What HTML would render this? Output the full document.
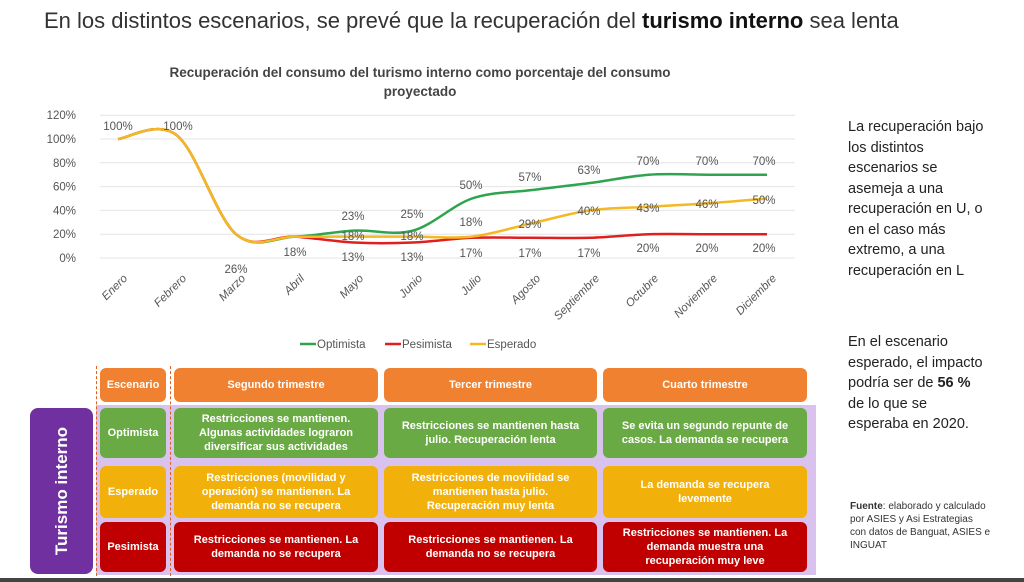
<!DOCTYPE html>
<html><head><meta charset="utf-8"><style>
body{margin:0;width:1024px;height:582px;background:#fff;position:relative;overflow:hidden;font-family:"Liberation Sans",sans-serif}
.a{position:absolute}
.rt{position:absolute;left:848px;font-size:14.5px;line-height:20.5px;color:#222}
.b{position:absolute;border-radius:6px;color:#fff;font-weight:bold;font-size:11px;display:flex;align-items:center;justify-content:center;text-align:center;line-height:14px;font-family:"Liberation Sans Narrow","Liberation Sans",sans-serif}
.o{background:#ef8130}.g{background:#6aaa45}.y{background:#f2b10a}.r{background:#c00000}
</style></head><body>
<div class="a" style="left:44px;top:8px;font-size:22px;color:#333">En los distintos escenarios, se prevé que la recuperación del <b style="color:#111">turismo interno</b> sea lenta</div>
<div class="a" style="left:100px;top:63px;width:640px;text-align:center;font-size:13.5px;font-weight:bold;color:#444;line-height:19px">Recuperación del consumo del turismo interno como porcentaje del consumo<br>proyectado</div>
<svg class="a" style="left:0;top:0" width="820" height="360" id="s" font-family="Liberation Sans, sans-serif" font-size="11.5" fill="#555"></svg>
<div class="rt" style="top:117px">La recuperación bajo<br>los distintos<br>escenarios se<br>asemeja a una<br>recuperación en U, o<br>en el caso más<br>extremo, a una<br>recuperación en L</div>
<div class="rt" style="top:332px">En el escenario<br>esperado, el impacto<br>podría ser de <b>56 %</b><br>de lo que se<br>esperaba en 2020.</div>
<div class="a" style="left:850px;top:500px;font-size:10px;line-height:13px;color:#333"><b>Fuente</b>: elaborado y calculado<br>por ASIES y Asi Estrategias<br>con datos de Banguat, ASIES e<br>INGUAT</div>
<div class="a" style="left:96px;top:405px;width:720px;height:170px;background:#d9c3ee"></div>
<div class="a" style="left:30px;top:408px;width:63px;height:166px;background:#7030a0;border-radius:8px"></div>
<div class="a" style="left:62px;top:491px;transform:translate(-50%,-50%) rotate(-90deg);color:#fff;font-weight:bold;font-size:17px;white-space:nowrap">Turismo interno</div>
<div class="a" style="left:96px;top:366px;height:210px;border-left:1.5px dashed #e06020"></div>
<div class="a" style="left:170px;top:366px;height:210px;border-left:1.5px dashed #e06020"></div>
<div class="b o" style="left:100px;top:368px;width:66px;height:34px">Escenario</div>
<div class="b o" style="left:174px;top:368px;width:204px;height:34px">Segundo trimestre</div>
<div class="b o" style="left:384px;top:368px;width:213px;height:34px">Tercer trimestre</div>
<div class="b o" style="left:603px;top:368px;width:204px;height:34px">Cuarto trimestre</div>
<div class="b g" style="left:100px;top:408px;width:66px;height:50px">Optimista</div>
<div class="b g" style="left:174px;top:408px;width:204px;height:50px">Restricciones se mantienen.<br>Algunas actividades lograron<br>diversificar sus actividades</div>
<div class="b g" style="left:384px;top:408px;width:213px;height:50px">Restricciones se mantienen hasta<br>julio. Recuperación lenta</div>
<div class="b g" style="left:603px;top:408px;width:204px;height:50px">Se evita un segundo repunte de<br>casos. La demanda se recupera</div>
<div class="b y" style="left:100px;top:466px;width:66px;height:52px">Esperado</div>
<div class="b y" style="left:174px;top:466px;width:204px;height:52px">Restricciones (movilidad y<br>operación) se mantienen. La<br>demanda no se recupera</div>
<div class="b y" style="left:384px;top:466px;width:213px;height:52px">Restricciones de movilidad se<br>mantienen hasta julio.<br>Recuperación muy lenta</div>
<div class="b y" style="left:603px;top:466px;width:204px;height:52px">La demanda se recupera<br>levemente</div>
<div class="b r" style="left:100px;top:522px;width:66px;height:50px">Pesimista</div>
<div class="b r" style="left:174px;top:522px;width:204px;height:50px">Restricciones se mantienen. La<br>demanda no se recupera</div>
<div class="b r" style="left:384px;top:522px;width:213px;height:50px">Restricciones se mantienen. La<br>demanda no se recupera</div>
<div class="b r" style="left:603px;top:522px;width:204px;height:50px">Restricciones se mantienen. La<br>demanda muestra una<br>recuperación muy leve</div>
<div class="a" style="left:0;top:578px;width:1024px;height:4px;background:#444"></div>
<script>
var s=document.getElementById('s'),h='';
function X(i){return 118+59*i}function Y(v){return 258-v*1.19}
for(var k=0;k<=6;k++){var y=Y(k*20);h+='<line x1="100" x2="795" y1="'+y+'" y2="'+y+'" stroke="#e4e4e4"/><text x="76" y="'+(y+4)+'" text-anchor="end">'+(k*20)+'%</text>';}
var m=['Enero','Febrero','Marzo','Abril','Mayo','Junio','Julio','Agosto','Septiembre','Octubre','Noviembre','Diciembre'];
m.forEach(function(t,i){h+='<text font-style="italic" transform="translate('+(X(i)+10)+',279) rotate(-45)" text-anchor="end">'+t+'</text>';});
function P(d){var p=d.map(function(v,i){return[X(i),Y(v)]});var s='M'+p[0];for(var i=0;i<p.length-1;i++){var a=p[i-1]||p[i],b=p[i],c=p[i+1],e=p[i+2]||c;s+=' C'+(b[0]+(c[0]-a[0])/6)+','+(b[1]+(c[1]-a[1])/6)+' '+(c[0]-(e[0]-b[0])/6)+','+(c[1]-(e[1]-b[1])/6)+' '+c;}return s}
var O=[100,103,20,18,23,23,50,57,63,70,70,70],E=[100,103,20,18,18,18,18,29,40,43,46,50],R=[100,103,20,18,13,13,17,17,17,20,20,20];
h+='<path d="'+P(O)+'" fill="none" stroke="#2ea44f" stroke-width="2.5"/>';
h+='<path d="'+P(R)+'" fill="none" stroke="#e02020" stroke-width="2.5"/>';
h+='<path d="'+P(E)+'" fill="none" stroke="#f4b824" stroke-width="2.5"/>';
var L=[[118,130,'100%'],[178,130,'100%'],[236,273,'26%'],[295,256,'18%'],[353,220,'23%'],[412,218,'25%'],[471,189,'50%'],[530,181,'57%'],[589,174,'63%'],[648,165,'70%'],[707,165,'70%'],[764,165,'70%'],
[353,240,'18%'],[412,240,'18%'],[471,226,'18%'],[530,228,'29%'],[589,215,'40%'],[648,212,'43%'],[707,208,'46%'],[764,204,'50%'],
[353,261,'13%'],[412,261,'13%'],[471,257,'17%'],[530,257,'17%'],[589,257,'17%'],[648,252,'20%'],[707,252,'20%'],[764,252,'20%']];
L.forEach(function(l){h+='<text x="'+l[0]+'" y="'+l[1]+'" text-anchor="middle">'+l[2]+'</text>';});
var lg=[[300,'#2ea44f','Optimista'],[385,'#e02020','Pesimista'],[470,'#f4b824','Esperado']];
lg.forEach(function(l){h+='<line x1="'+l[0]+'" x2="'+(l[0]+16)+'" y1="344" y2="344" stroke="'+l[1]+'" stroke-width="2.5"/><text x="'+(l[0]+17)+'" y="348">'+l[2]+'</text>';});
s.innerHTML=h;
</script>
</body></html>
